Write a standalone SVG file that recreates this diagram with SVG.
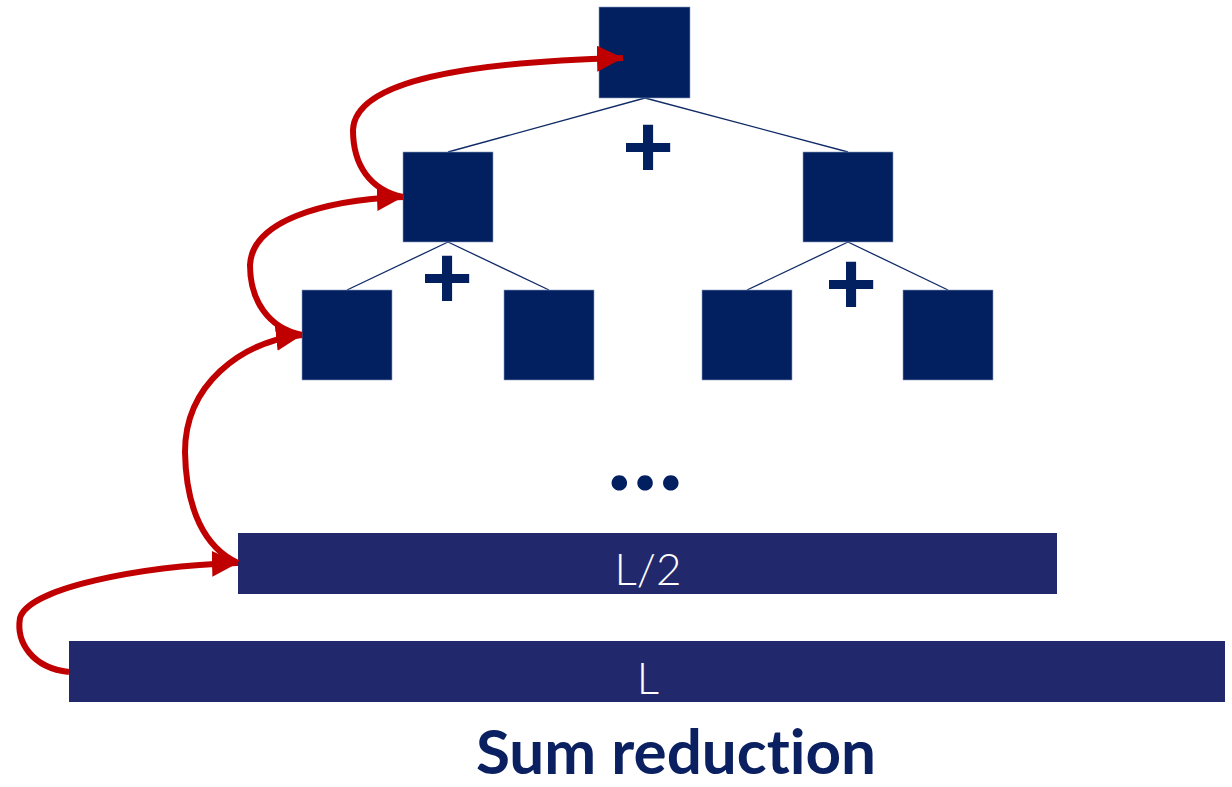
<svg xmlns="http://www.w3.org/2000/svg" width="1232" height="787" viewBox="0 0 1232 787">
  <style>
    .cell { fill: #022060; stroke: #8a9bc0; stroke-width: 0.6; }
    .bar { fill: #22286c; }
    .edge { stroke: #0f2a66; stroke-width: 1.3; fill: none; }
    .flow { stroke: #c00000; stroke-width: 6; fill: none; stroke-linecap: butt; }
    .op { font-family: Lato, "Liberation Sans", sans-serif; font-weight: 900; fill: #022060; text-anchor: middle; }
    .barlabel { font-family: Lato, "Liberation Sans", sans-serif; font-weight: 300; fill: #ffffff; text-anchor: middle; font-size: 44px; }
    .title { font-family: Lato, "Liberation Sans", sans-serif; font-weight: 700; fill: #0b2060; text-anchor: middle; font-size: 62px; font-variant-ligatures: none; }
  </style>
  <defs>
    <marker id="head" markerUnits="userSpaceOnUse" markerWidth="30" markerHeight="30" refX="26" refY="13" orient="auto">
      <path d="M0,0 L26,13 L0,26 Z" fill="#c00000"/>
    </marker>
  </defs>
  <rect width="1232" height="787" fill="#ffffff"/>

  <!-- tree edges -->
  <g id="edges">
    <line class="edge" x1="645" y1="98" x2="448" y2="152"/>
    <line class="edge" x1="645" y1="98" x2="848" y2="152"/>
    <line class="edge" x1="448" y1="242" x2="347" y2="290"/>
    <line class="edge" x1="448" y1="242" x2="549" y2="290"/>
    <line class="edge" x1="848" y1="242" x2="747" y2="290"/>
    <line class="edge" x1="848" y1="242" x2="948" y2="290"/>
  </g>

  <!-- tree nodes -->
  <g id="root"><rect class="cell" x="599" y="7" width="91" height="91"/></g>
  <g id="n1a"><rect class="cell" x="403" y="152" width="90" height="90"/></g>
  <g id="n1b"><rect class="cell" x="803" y="152" width="90" height="90"/></g>
  <g id="n2a"><rect class="cell" x="302" y="290" width="90" height="90"/></g>
  <g id="n2b"><rect class="cell" x="504" y="290" width="90" height="90"/></g>
  <g id="n2c"><rect class="cell" x="702" y="290" width="90" height="90"/></g>
  <g id="n2d"><rect class="cell" x="903" y="290" width="90" height="90"/></g>

  <!-- operators -->
  <g id="ops">
    <text class="op" x="648" y="177" font-size="90">+</text>
    <text class="op" x="447" y="308" font-size="90">+</text>
    <text class="op" x="851" y="314" font-size="90">+</text>
  </g>

  <g id="ellipsis">
    <text class="op" x="645" y="490" font-size="95">…</text>
  </g>

  <!-- arrays -->
  <g id="half">
    <rect class="bar" x="238" y="533" width="819" height="61"/>
    <text class="barlabel" x="648" y="585">L/2</text>
  </g>
  <g id="full">
    <rect class="bar" x="69" y="641" width="1156" height="61"/>
    <text class="barlabel" x="648" y="694">L</text>
  </g>

  <!-- reduction flow -->
  <g id="connectors">
    <path class="flow" marker-end="url(#head)" d="M69,672 C32,668 16,642 20,618 C28,588 140,566 238,563"/>
    <path class="flow" marker-end="url(#head)" d="M238,563 C205,548 186,510 185,452 C185,385 240,342 302,335"/>
    <path class="flow" marker-end="url(#head)" d="M302,335 C268,328 250,300 250,265 C252,222 320,200 403,197"/>
    <path class="flow" marker-end="url(#head)" d="M403,197 C370,190 353,165 353,130 C355,80 470,62 623,58"/>
  </g>

  <text class="title" x="676" y="774">Sum reduction</text>
</svg>
